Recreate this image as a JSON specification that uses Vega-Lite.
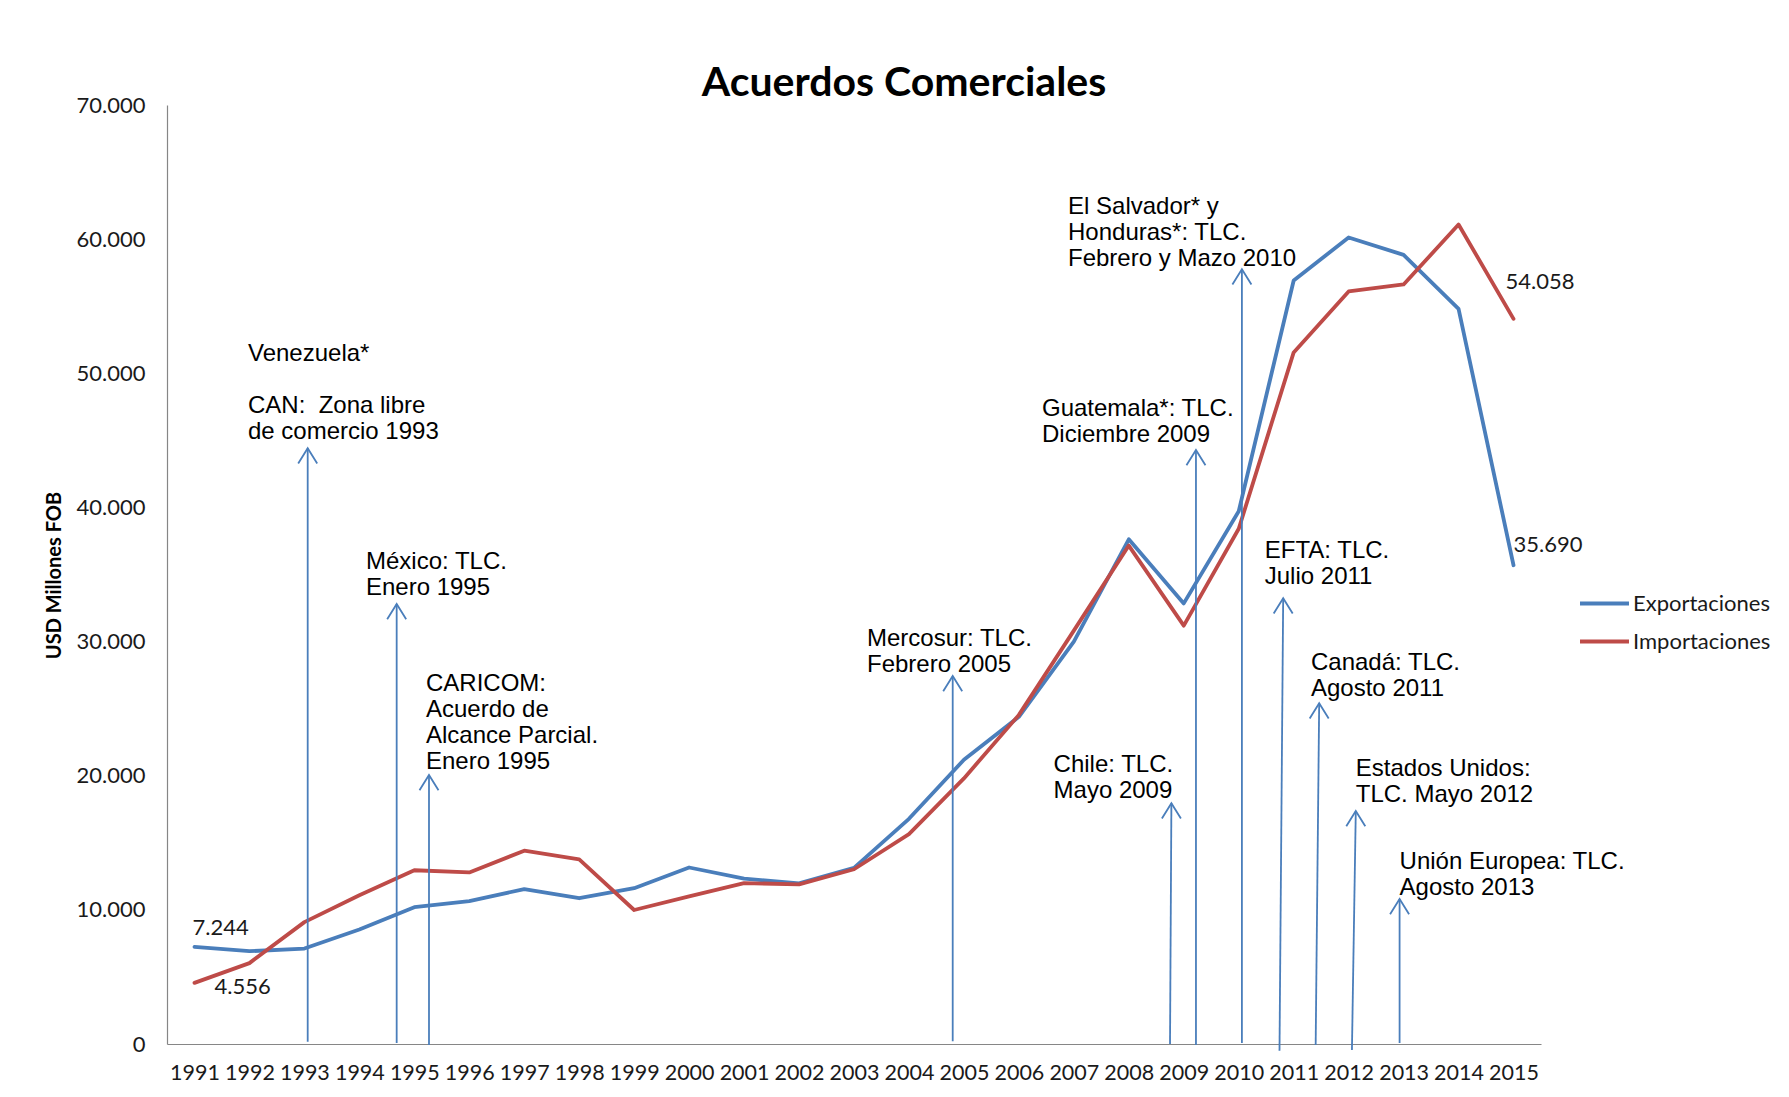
{
  "$schema": "https://vega.github.io/schema/vega-lite/v6.json",
  "width": 1374,
  "height": 939,
  "autosize": "none",
  "padding": {"left": 167, "top": 105, "right": 248, "bottom": 53},
  "background": "white",
  "title": {
    "text": "Acuerdos Comerciales",
    "font": "Lato",
    "fontSize": 41,
    "fontWeight": "bold",
    "color": "#000000",
    "anchor": "middle",
    "frame": "group",
    "dx": 50,
    "baseline": "alphabetic",
    "offset": -43
  },
  "datasets": {
    "series": [
      {"year": 1991, "series": "Exportaciones", "value": 7244},
      {"year": 1992, "series": "Exportaciones", "value": 6917},
      {"year": 1993, "series": "Exportaciones", "value": 7116},
      {"year": 1994, "series": "Exportaciones", "value": 8538},
      {"year": 1995, "series": "Exportaciones", "value": 10201},
      {"year": 1996, "series": "Exportaciones", "value": 10648},
      {"year": 1997, "series": "Exportaciones", "value": 11549},
      {"year": 1998, "series": "Exportaciones", "value": 10866},
      {"year": 1999, "series": "Exportaciones", "value": 11617},
      {"year": 2000, "series": "Exportaciones", "value": 13158},
      {"year": 2001, "series": "Exportaciones", "value": 12330},
      {"year": 2002, "series": "Exportaciones", "value": 11975},
      {"year": 2003, "series": "Exportaciones", "value": 13129},
      {"year": 2004, "series": "Exportaciones", "value": 16788},
      {"year": 2005, "series": "Exportaciones", "value": 21190},
      {"year": 2006, "series": "Exportaciones", "value": 24391},
      {"year": 2007, "series": "Exportaciones", "value": 29991},
      {"year": 2008, "series": "Exportaciones", "value": 37626},
      {"year": 2009, "series": "Exportaciones", "value": 32846},
      {"year": 2010, "series": "Exportaciones", "value": 39713},
      {"year": 2011, "series": "Exportaciones", "value": 56915},
      {"year": 2012, "series": "Exportaciones", "value": 60125},
      {"year": 2013, "series": "Exportaciones", "value": 58824},
      {"year": 2014, "series": "Exportaciones", "value": 54795},
      {"year": 2015, "series": "Exportaciones", "value": 35690},
      {"year": 1991, "series": "Importaciones", "value": 4556},
      {"year": 1992, "series": "Importaciones", "value": 6029},
      {"year": 1993, "series": "Importaciones", "value": 9086},
      {"year": 1994, "series": "Importaciones", "value": 11094},
      {"year": 1995, "series": "Importaciones", "value": 12952},
      {"year": 1996, "series": "Importaciones", "value": 12792},
      {"year": 1997, "series": "Importaciones", "value": 14409},
      {"year": 1998, "series": "Importaciones", "value": 13768},
      {"year": 1999, "series": "Importaciones", "value": 9991},
      {"year": 2000, "series": "Importaciones", "value": 10998},
      {"year": 2001, "series": "Importaciones", "value": 11997},
      {"year": 2002, "series": "Importaciones", "value": 11897},
      {"year": 2003, "series": "Importaciones", "value": 13026},
      {"year": 2004, "series": "Importaciones", "value": 15649},
      {"year": 2005, "series": "Importaciones", "value": 19799},
      {"year": 2006, "series": "Importaciones", "value": 24534},
      {"year": 2007, "series": "Importaciones", "value": 30816},
      {"year": 2008, "series": "Importaciones", "value": 37155},
      {"year": 2009, "series": "Importaciones", "value": 31188},
      {"year": 2010, "series": "Importaciones", "value": 38406},
      {"year": 2011, "series": "Importaciones", "value": 51556},
      {"year": 2012, "series": "Importaciones", "value": 56102},
      {"year": 2013, "series": "Importaciones", "value": 56620},
      {"year": 2014, "series": "Importaciones", "value": 61088},
      {"year": 2015, "series": "Importaciones", "value": 54058}
    ],
    "acuerdos": [
      {"name": "CAN", "arrow_year": 1993.06, "base_year": 1993.06, "top": 44408, "base": 170},
      {"name": "Mexico", "arrow_year": 1994.679, "base_year": 1994.679, "top": 32801, "base": 75},
      {"name": "CARICOM", "arrow_year": 1995.267, "base_year": 1995.267, "top": 20053, "base": -75},
      {"name": "Mercosur", "arrow_year": 2004.796, "base_year": 2004.796, "top": 27433, "base": 200},
      {"name": "Chile", "arrow_year": 2008.775, "base_year": 2008.75, "top": 17943, "base": 0},
      {"name": "Guatemala", "arrow_year": 2009.222, "base_year": 2009.222, "top": 44281, "base": -75},
      {"name": "ElSalvador", "arrow_year": 2010.058, "base_year": 2010.058, "top": 57752, "base": 75},
      {"name": "EFTA", "arrow_year": 2010.809, "base_year": 2010.742, "top": 33226, "base": -500},
      {"name": "Canada", "arrow_year": 2011.464, "base_year": 2011.40, "top": 25398, "base": -75},
      {"name": "EEUU", "arrow_year": 2012.13, "base_year": 2012.06, "top": 17369, "base": -450},
      {"name": "UE", "arrow_year": 2012.927, "base_year": 2012.927, "top": 10809, "base": 75}
    ],
    "notas": [
      {"name": "Venezuela", "label_year": 1991.973, "label_value": 52332, "lines": ["Venezuela*"]},
      {"name": "CAN", "label_year": 1991.973, "label_value": 48485, "lines": ["CAN:\u00a0 Zona libre", "de comercio 1993"]},
      {"name": "Mexico", "label_year": 1994.12, "label_value": 36826, "lines": ["México: TLC.", "Enero 1995"]},
      {"name": "CARICOM", "label_year": 1995.212, "label_value": 27731, "lines": ["CARICOM:", "Acuerdo de", "Alcance Parcial.", "Enero 1995"]},
      {"name": "Mercosur", "label_year": 2003.236, "label_value": 31049, "lines": ["Mercosur: TLC.", "Febrero 2005"]},
      {"name": "Chile", "label_year": 2006.631, "label_value": 21693, "lines": ["Chile: TLC.", "Mayo 2009"]},
      {"name": "Guatemala", "label_year": 2006.42, "label_value": 48256, "lines": ["Guatemala*: TLC.", "Diciembre 2009"]},
      {"name": "ElSalvador", "label_year": 2006.894, "label_value": 63313, "lines": ["El Salvador* y", "Honduras*: TLC.", "Febrero y Mazo 2010"]},
      {"name": "EFTA", "label_year": 2010.474, "label_value": 37646, "lines": ["EFTA: TLC.", "Julio 2011"]},
      {"name": "Canada", "label_year": 2011.315, "label_value": 29274, "lines": ["Canadá: TLC.", "Agosto 2011"]},
      {"name": "EEUU", "label_year": 2012.13, "label_value": 21395, "lines": ["Estados Unidos:", "TLC. Mayo 2012"]},
      {"name": "UE", "label_year": 2012.927, "label_value": 14440, "lines": ["Unión Europea: TLC.", "Agosto 2013"]}
    ]
  },
  "layer": [
    {
      "data": {"name": "series"},
      "mark": {"type": "line", "strokeWidth": 3.8, "strokeCap": "round", "strokeJoin": "round"},
      "encoding": {
        "x": {
          "field": "year", "type": "quantitative",
          "scale": {"domain": [1990.5, 2015.5], "nice": false, "zero": false},
          "axis": {
            "title": null,
            "values": [1991,1992,1993,1994,1995,1996,1997,1998,1999,2000,2001,2002,2003,2004,2005,2006,2007,2008,2009,2010,2011,2012,2013,2014,2015],
            "format": "d",
            "ticks": false,
            "grid": false,
            "domainColor": "#868686",
            "domainWidth": 1.2,
            "labelFont": "Lato",
            "labelFontSize": 21.5,
            "labelColor": "#1a1a1a",
            "labelPadding": 18,
            "labelOverlap": false,
            "labelFlush": false
          }
        },
        "y": {
          "field": "value", "type": "quantitative",
          "scale": {"domain": [0, 70000], "nice": false},
          "axis": {
            "title": "USD Millones FOB",
            "titleFont": "Lato",
            "titleFontSize": 20,
            "titleFontWeight": "bold",
            "titleColor": "#000000",
            "titleAngle": 270,
            "titleX": -113,
            "titleY": 470,
            "titleAlign": "center",
            "titleBaseline": "middle",
            "values": [0,10000,20000,30000,40000,50000,60000,70000],
            "labelExpr": "datum.value == 0 ? '0' : replace(format(datum.value, ','), ',', '.')",
            "ticks": false,
            "grid": false,
            "domainColor": "#868686",
            "domainWidth": 1.2,
            "labelFont": "Lato",
            "labelFontSize": 22,
            "labelColor": "#1a1a1a",
            "labelPadding": 22
          }
        },
        "color": {
          "field": "series", "type": "nominal",
          "scale": {"domain": ["Exportaciones", "Importaciones"], "range": ["#4a7ebb", "#be4b48"]},
          "legend": {
            "title": null,
            "orient": "none",
            "legendX": 1411,
            "legendY": 472,
            "symbolType": "stroke",
            "symbolSize": 2400,
            "symbolStrokeWidth": 4,
            "labelFont": "Lato",
            "labelFontSize": 22,
            "labelColor": "#1a1a1a",
            "labelOffset": 2,
            "rowPadding": -8,
            "padding": 0
          }
        }
      }
    },
    {
      "data": {"name": "acuerdos"},
      "mark": {"type": "rule", "color": "#4a7ebb", "strokeWidth": 1.8},
      "encoding": {
        "x": {"field": "base_year", "type": "quantitative"},
        "y": {"field": "base", "type": "quantitative"},
        "x2": {"field": "arrow_year"},
        "y2": {"field": "top"}
      }
    },
    {
      "data": {"name": "acuerdos"},
      "mark": {"type": "point", "shape": "M-1,1.6L0,0L1,1.6", "filled": false, "stroke": "#4a7ebb", "strokeWidth": 1.8, "size": 361, "opacity": 1},
      "encoding": {
        "x": {"field": "arrow_year", "type": "quantitative"},
        "y": {"field": "top", "type": "quantitative"}
      }
    },
    {
      "data": {"name": "notas"},
      "mark": {"type": "text", "align": "left", "baseline": "top", "font": "Liberation Sans", "fontSize": 24, "lineHeight": 26, "color": "#000000"},
      "encoding": {
        "x": {"field": "label_year", "type": "quantitative"},
        "y": {"field": "label_value", "type": "quantitative"},
        "text": {"field": "lines"}
      }
    },
    {
      "data": {"name": "series"},
      "transform": [{"filter": "datum.year == 1991 && datum.series == 'Exportaciones'"}],
      "mark": {"type": "text", "align": "left", "baseline": "middle", "font": "Lato", "fontSize": 22, "color": "#1a1a1a", "dx": -2, "dy": -19, "text": "7.244"},
      "encoding": {
        "x": {"field": "year", "type": "quantitative"},
        "y": {"field": "value", "type": "quantitative"}
      }
    },
    {
      "data": {"name": "series"},
      "transform": [{"filter": "datum.year == 1991 && datum.series == 'Importaciones'"}],
      "mark": {"type": "text", "align": "left", "baseline": "middle", "font": "Lato", "fontSize": 22, "color": "#1a1a1a", "dx": 20, "dy": 4, "text": "4.556"},
      "encoding": {
        "x": {"field": "year", "type": "quantitative"},
        "y": {"field": "value", "type": "quantitative"}
      }
    },
    {
      "data": {"name": "series"},
      "transform": [{"filter": "datum.year == 2015 && datum.series == 'Importaciones'"}],
      "mark": {"type": "text", "align": "left", "baseline": "middle", "font": "Lato", "fontSize": 22, "color": "#1a1a1a", "dx": -8, "dy": -37, "text": "54.058"},
      "encoding": {
        "x": {"field": "year", "type": "quantitative"},
        "y": {"field": "value", "type": "quantitative"}
      }
    },
    {
      "data": {"name": "series"},
      "transform": [{"filter": "datum.year == 2015 && datum.series == 'Exportaciones'"}],
      "mark": {"type": "text", "align": "left", "baseline": "middle", "font": "Lato", "fontSize": 22, "color": "#1a1a1a", "dx": 0, "dy": -20, "text": "35.690"},
      "encoding": {
        "x": {"field": "year", "type": "quantitative"},
        "y": {"field": "value", "type": "quantitative"}
      }
    }
  ],
  "config": {
    "view": {"stroke": null}
  }
}
